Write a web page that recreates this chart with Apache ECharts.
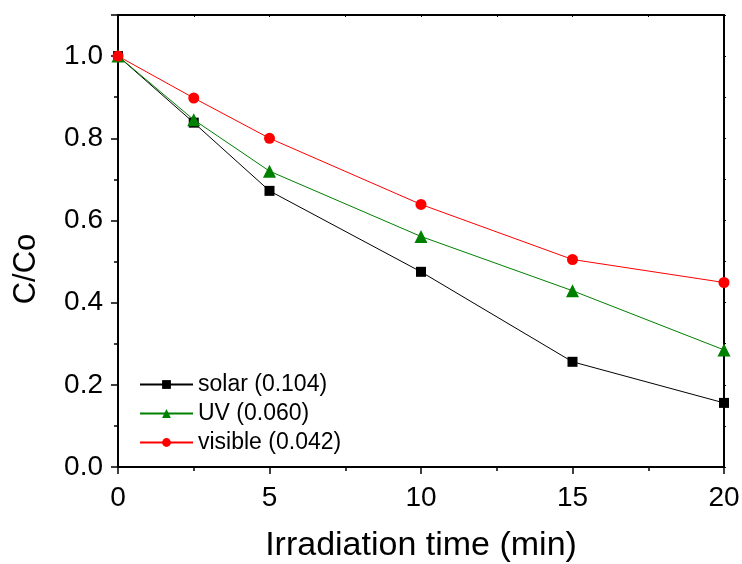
<!DOCTYPE html>
<html>
<head>
<meta charset="utf-8">
<script src="https://cdn.jsdelivr.net/npm/echarts@6/dist/echarts.min.js"></script>
<style>
  html, body { margin: 0; padding: 0; background: #fff; }
  #chart { width: 742px; height: 564px; }
</style>
</head>
<body>
<div id="chart"></div>
<script>
// irradiation time (min)
const times = [0, 2.5, 5, 10, 15, 20];
// C/Co per light source
const solar = [1.0, 0.838, 0.672, 0.475, 0.256, 0.156];
const uv = [1.0, 0.845, 0.72, 0.561, 0.429, 0.285];
const visible = [1.0, 0.898, 0.80, 0.639, 0.505, 0.449];
const names = ['solar (0.104)', 'UV (0.060)', 'visible (0.042)'];

const pairs = (ys) => times.map((t, i) => [t, ys[i]]);
const font = 'Liberation Sans, Arial, sans-serif';

const chart = echarts.init(document.getElementById('chart'));

function line(name, ys, color, symbol, size) {
  return {
    name: name,
    type: 'line',
    data: pairs(ys),
    symbol: symbol,
    symbolSize: size,
    lineStyle: { color: color, width: 1 },
    itemStyle: { color: color },
    clip: false,
    animation: false
  };
}

const frame = { show: true, onZero: false, lineStyle: { color: '#000', width: 2 } };

chart.setOption({
  backgroundColor: '#fff',
  grid: { left: 118, right: 18, top: 15, bottom: 97, outerBoundsMode: 'none', containLabel: false },
  legend: {
    orient: 'vertical',
    left: 134,
    top: 368,
    itemWidth: 53,
    itemHeight: 11,
    itemGap: 6,
    textStyle: { fontFamily: font, fontSize: 23, color: '#000' },
    data: names
  },
  graphic: [{
    type: 'text',
    x: 26, y: 269,
    rotation: Math.PI / 2,
    style: {
      text: 'C/Co', fontFamily: font, fontSize: 31, fill: '#000',
      align: 'center', verticalAlign: 'middle'
    }
  }],
  xAxis: [{
    type: 'value',
    min: 0, max: 20, interval: 5,
    name: 'Irradiation time (min)',
    nameLocation: 'middle',
    nameGap: 62,
    nameTextStyle: { fontFamily: font, fontSize: 34, color: '#000' },
    axisLine: frame,
    axisTick: { length: 7, lineStyle: { color: '#000', width: 1.5 } },
    minorTick: { show: true, splitNumber: 2, length: 4, lineStyle: { color: '#000', width: 1.5 } },
    axisLabel: { fontFamily: font, fontSize: 28, color: '#000', margin: 17 },
    splitLine: { show: false }
  }, {
    type: 'value',
    position: 'top',
    min: 0, max: 20, interval: 5,
    axisLine: frame,
    axisTick: { inside: true, length: 2, lineStyle: { color: '#000' } },
    minorTick: { show: true, splitNumber: 2, length: 2, lineStyle: { color: '#000' } },
    axisLabel: { show: false },
    splitLine: { show: false }
  }],
  yAxis: [{
    type: 'value',
    min: 0, max: 1.1, interval: 0.2,
    axisLine: frame,
    axisTick: { show: true, length: 7, lineStyle: { color: '#000', width: 1.5 } },
    minorTick: { show: true, splitNumber: 2, length: 4, lineStyle: { color: '#000', width: 1.5 } },
    axisLabel: {
      fontFamily: font, fontSize: 28, color: '#000', margin: 15,
      formatter: (v) => v > 1.05 ? '' : v.toFixed(1)
    },
    splitLine: { show: false }
  }, {
    type: 'value',
    position: 'right',
    min: 0, max: 1.1, interval: 0.2,
    axisLine: frame,
    axisTick: { show: true, length: 2, lineStyle: { color: '#000' } },
    minorTick: { show: true, splitNumber: 2, length: 2, lineStyle: { color: '#000' } },
    axisLabel: { show: false },
    splitLine: { show: false }
  }],
  series: [
    line(names[0], solar, '#000000', 'rect', 10),
    line(names[1], uv, '#008000', 'triangle', 13),
    line(names[2], visible, '#ff0000', 'circle', 11)
  ]
});
</script>
</body>
</html>
